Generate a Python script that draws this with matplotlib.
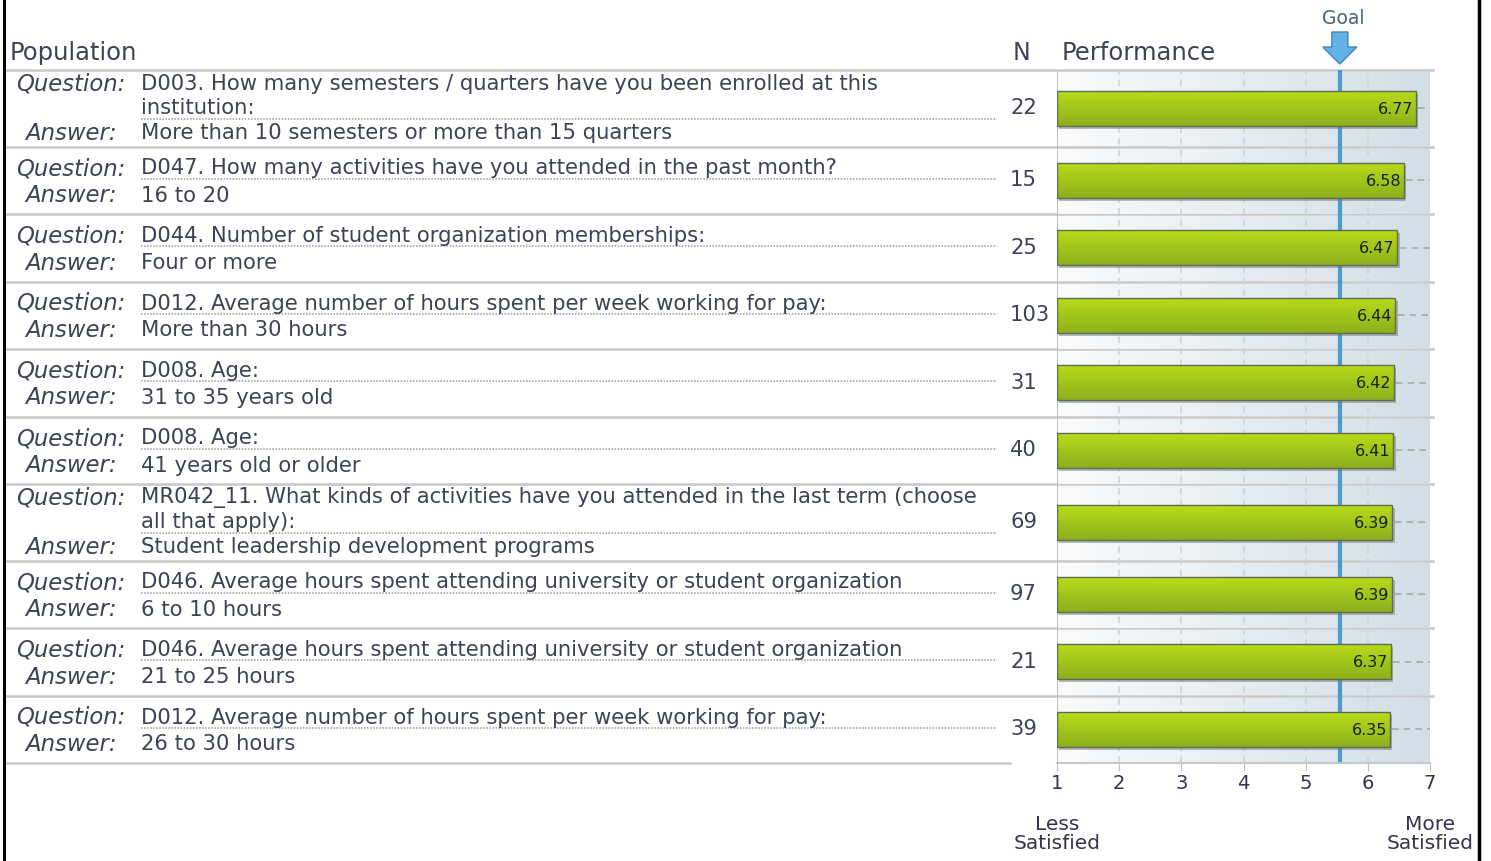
import numpy as np
import matplotlib.pyplot as plt
from matplotlib.patches import Rectangle, Polygon

# data
questions = [
    "D003. How many semesters / quarters have you been enrolled at this\ninstitution:",
    "D047. How many activities have you attended in the past month?",
    "D044. Number of student organization memberships:",
    "D012. Average number of hours spent per week working for pay:",
    "D008. Age:",
    "D008. Age:",
    "MR042_11. What kinds of activities have you attended in the last term (choose\nall that apply):",
    "D046. Average hours spent attending university or student organization",
    "D046. Average hours spent attending university or student organization",
    "D012. Average number of hours spent per week working for pay:",
]
answers = [
    "More than 10 semesters or more than 15 quarters",
    "16 to 20",
    "Four or more",
    "More than 30 hours",
    "31 to 35 years old",
    "41 years old or older",
    "Student leadership development programs",
    "6 to 10 hours",
    "21 to 25 hours",
    "26 to 30 hours",
]
n_values = [22, 15, 25, 103, 31, 40, 69, 97, 21, 39]
scores = [6.77, 6.58, 6.47, 6.44, 6.42, 6.41, 6.39, 6.39, 6.37, 6.35]
goal = 5.55
ticks = [1, 2, 3, 4, 5, 6, 7]

W, H = 1491, 861
TXT = '#3d4254'
fig = plt.figure(figsize=(W / 100, H / 100), dpi=100)
ax = fig.add_axes([0, 0, 1, 1])
ax.set_xlim(0, W)
ax.set_ylim(H, 0)
ax.axis('off')

# row layout in pixels
top0 = 70
heights = [76.5 if '\n' in q else 67.5 for q in questions]
tops = top0 + np.concatenate([[0], np.cumsum(heights)])
bottom = tops[-1]
centers = (tops[:-1] + tops[1:]) / 2

# bar axes, same pixel y coordinates
x1, x7 = 1057, 1430
bx = fig.add_axes([x1 / W, (H - bottom) / H, (x7 - x1) / W, (bottom - top0) / H])
bx.set_xlim(1, 7)
bx.set_ylim(bottom, top0)
bx.patch.set_alpha(0)

grad = np.linspace(0, 1, 256)[None, :, None]
c0 = np.array([0.98, 0.985, 0.99])
c1 = np.array([0.82, 0.87, 0.90])
bg = c0 + (c1 - c0) * grad
for t, b in zip(tops[:-1], tops[1:]):
    bx.imshow(bg, extent=[1, 7.05, b, t + 3], aspect='auto', zorder=0)

for v in ticks[1:-1]:
    bx.axvline(v, color='#cdd4d8', lw=1.2, ls=(0, (4, 3)), zorder=1)
bx.axvline(7.02, color='#8a8a8a', lw=1.2, ls=(0, (3, 2)), zorder=1)
bx.axvline(1, color='#c0c0c0', lw=1.5, zorder=1)
bx.axvline(goal, color='#4a9ccf', lw=3, zorder=2)

bar_h = 35
green = np.array([[0.72, 0.86, 0.10], [0.55, 0.69, 0.11]])
ggrad = green[0] + (green[1] - green[0]) * np.linspace(0, 1, 64)[:, None, None]
bars = bx.barh(centers, [s - 1 for s in scores], left=1, height=bar_h,
               color='none', edgecolor='#5f6b55', lw=1, zorder=4)
for bar, s, c in zip(bars, scores, centers):
    # shadow
    bx.add_patch(Rectangle((1.04, c - bar_h / 2 + 3), s - 1, bar_h,
                           color='#777777', alpha=0.5, lw=0, zorder=3))
    im = bx.imshow(ggrad, extent=[1, s, c + bar_h / 2, c - bar_h / 2],
                   aspect='auto', zorder=3.5)
    im.set_clip_path(bar)
    bx.plot([s + 0.04, 7], [c, c], color='#a8a8a8', lw=1.2, ls=(0, (4, 3)), zorder=2)
    bx.text(s - 0.04, c + 1, f'{s:.2f}', ha='right', va='center',
            fontsize=11.5, color='#1a1f0c', zorder=5)

bx.set_xticks(ticks)
bx.set_xticklabels([str(t) for t in ticks])
bx.set_yticks([])
bx.tick_params(axis='x', length=6, color='#c0c0c0', labelsize=14,
               labelcolor='#3a3050', pad=2)
for sp in ['top', 'left', 'right']:
    bx.spines[sp].set_visible(False)
bx.spines['bottom'].set_color('#c8c8c8')
bx.spines['bottom'].set_linewidth(1.5)

# table
fs = 15.2
ax.plot([5, 1433], [top0, top0], color='#c8c8c8', lw=1.8)
for t in tops[1:-1]:
    ax.plot([5, 1433], [t, t], color='#c8c8c8', lw=1.8)
ax.plot([5, 1010], [bottom, bottom], color='#c8c8c8', lw=1.8)

for q, a, n, t, b, c in zip(questions, answers, n_values, tops[:-1], tops[1:], centers):
    lines = q.split('\n')
    if len(lines) > 1:
        qy, step = t + 14, 24.5
    else:
        qy, step = t + 22, 27
    ax.text(71, qy, 'Question:', ha='center', va='center', style='italic',
            fontsize=fs + 1.2, color=TXT)
    for i, ln in enumerate(lines):
        ax.text(141, qy + i * step, ln, ha='left', va='center', fontsize=fs, color=TXT)
    ly = qy + (len(lines) - 1) * step
    ax.plot([141, 997], [ly + 10, ly + 10], color='#9a9a9a', lw=1.1, ls=(0, (1, 1)))
    ay = ly + step
    ax.text(71, ay, 'Answer:', ha='center', va='center', style='italic',
            fontsize=fs + 1.2, color=TXT)
    ax.text(141, ay, a, ha='left', va='center', fontsize=fs, color=TXT)
    ax.text(1010, c, str(n), ha='left', va='center', fontsize=fs, color=TXT)

# header
ax.text(10, 53, 'Population', ha='left', va='center', fontsize=17.5, color=TXT)
ax.text(1013, 53, 'N', ha='left', va='center', fontsize=17, color=TXT)
ax.text(1062, 53, 'Performance', ha='left', va='center', fontsize=17.5, color=TXT)

gx = x1 + (goal - 1) * (x7 - x1) / 6
ax.text(gx + 3, 18, 'Goal', ha='center', va='center', fontsize=13.5, color='#4a6275')
ax.add_patch(Polygon([[gx - 8, 32], [gx + 8, 32], [gx + 8, 47], [gx + 17, 47],
                      [gx, 64], [gx - 17, 47], [gx - 8, 47]],
                     closed=True, facecolor='#62b2e6', edgecolor='#3a86c2', lw=1))

ax.text(x1, 834, 'Less\nSatisfied', ha='center', va='center', fontsize=14.5,
        color='#3a3050', linespacing=1.05)
ax.text(x7, 834, 'More\nSatisfied', ha='center', va='center', fontsize=14.5,
        color='#3a3050', linespacing=1.05)

# borders
ax.plot([4, 4], [0, H], color='black', lw=2.2)
ax.plot([1479, 1479], [0, H], color='black', lw=2.5)

fig.savefig('out.png', dpi=100)
